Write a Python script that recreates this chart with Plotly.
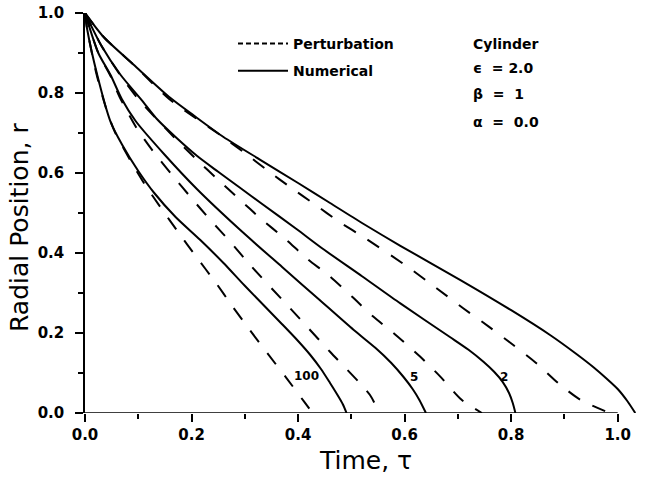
import plotly.graph_objects as go

# ---- data ----
biot_labels = ["100", "5", "2", "Bi<sub>r</sub> =1"]

num_100_t = [0, 0.004, 0.023, 0.048, 0.07, 0.1, 0.13, 0.17, 0.216, 0.26, 0.30, 0.37, 0.40, 0.423, 0.443, 0.46, 0.474, 0.484, 0.491]
num_100_r = [1, 0.96, 0.845, 0.728, 0.67, 0.605, 0.55, 0.49, 0.433, 0.375, 0.318, 0.222, 0.18, 0.145, 0.11, 0.075, 0.045, 0.022, 0.0]

num_5_t = [0, 0.025, 0.048, 0.069, 0.095, 0.15, 0.21, 0.291, 0.37, 0.44, 0.504, 0.545, 0.575, 0.598, 0.615, 0.628, 0.64]
num_5_r = [1, 0.9, 0.845, 0.785, 0.73, 0.645, 0.56, 0.458, 0.365, 0.283, 0.208, 0.163, 0.125, 0.09, 0.06, 0.032, 0.0]

num_2_t = [0, 0.03, 0.067, 0.106, 0.135, 0.17, 0.21, 0.25, 0.291, 0.33, 0.397, 0.447, 0.52, 0.592, 0.685, 0.72, 0.748, 0.768, 0.784, 0.796, 0.803, 0.808]
num_2_r = [1, 0.92, 0.845, 0.783, 0.735, 0.69, 0.643, 0.603, 0.563, 0.525, 0.46, 0.41, 0.342, 0.274, 0.19, 0.158, 0.128, 0.103, 0.078, 0.05, 0.025, 0.0]

num_1_t = [0, 0.035, 0.092, 0.16, 0.205, 0.26, 0.329, 0.4, 0.46, 0.52, 0.592, 0.704, 0.8, 0.873, 0.92, 0.954, 0.98, 1.0, 1.018, 1.033]
num_1_r = [1, 0.94, 0.87, 0.788, 0.743, 0.69, 0.633, 0.575, 0.525, 0.475, 0.418, 0.333, 0.257, 0.195, 0.15, 0.115, 0.085, 0.06, 0.03, 0.0]

per_100_t = [0, 0.004, 0.022, 0.04, 0.056, 0.085, 0.113, 0.144, 0.175, 0.208, 0.246, 0.275, 0.308, 0.342, 0.379, 0.411, 0.427]
per_100_r = [1, 0.96, 0.845, 0.76, 0.703, 0.632, 0.57, 0.51, 0.452, 0.392, 0.325, 0.27, 0.21, 0.15, 0.086, 0.029, 0.0]

per_5_t = [0, 0.025, 0.047, 0.065, 0.097, 0.128, 0.163, 0.2, 0.235, 0.272, 0.31, 0.385, 0.46, 0.535, 0.552]
per_5_r = [1, 0.9, 0.845, 0.79, 0.712, 0.654, 0.596, 0.537, 0.483, 0.429, 0.37, 0.262, 0.153, 0.045, 0.0]

per_2_t = [0, 0.03, 0.066, 0.1, 0.169, 0.21, 0.25, 0.291, 0.329, 0.376, 0.416, 0.46, 0.501, 0.541, 0.579, 0.629, 0.667, 0.707, 0.745]
per_2_r = [1, 0.92, 0.845, 0.785, 0.687, 0.633, 0.583, 0.533, 0.487, 0.435, 0.387, 0.341, 0.291, 0.241, 0.2, 0.141, 0.091, 0.033, 0.0]

per_1_t = [0, 0.035, 0.092, 0.158, 0.257, 0.3, 0.341, 0.388, 0.432, 0.476, 0.526, 0.605, 0.66, 0.71, 0.758, 0.804, 0.848, 0.889, 0.93, 0.985]
per_1_r = [1, 0.94, 0.87, 0.785, 0.692, 0.65, 0.608, 0.562, 0.521, 0.479, 0.437, 0.366, 0.312, 0.262, 0.216, 0.17, 0.124, 0.074, 0.033, 0.0]

label_t = [0.415, 0.617, 0.786, 1.05]
label_r = [0.093, 0.091, 0.091, 0.091]

x_ticks = [0.0, 0.2, 0.4, 0.6, 0.8, 1.0]
y_ticks = [0.0, 0.2, 0.4, 0.6, 0.8, 1.0]

legend_names = ["Perturbation", "Numerical"]
info_lines = ["Cylinder", "ϵ  = 2.0", "β  =  1", "α  =  0.0"]

FONT = "DejaVu Sans"
W, H = 654, 478
ML, MR, MT, MB = 85, 15, 13, 65
PW, PH = W - ML - MR, H - MT - MB


def px_x(p):
    return (p - ML) / PW


def px_y(p):
    return (H - MB - p) / PH


fig = go.Figure()

per_sets = [(per_100_t, per_100_r), (per_5_t, per_5_r), (per_2_t, per_2_r), (per_1_t, per_1_r)]
num_sets = [(num_100_t, num_100_r), (num_5_t, num_5_r), (num_2_t, num_2_r), (num_1_t, num_1_r)]

for t, r in per_sets:
    fig.add_trace(go.Scatter(
        x=t, y=r, mode="lines", showlegend=False, hoverinfo="x+y",
        line=dict(color="black", width=2, dash="14px,14px", shape="spline", smoothing=0.7),
    ))
for t, r in num_sets:
    fig.add_trace(go.Scatter(
        x=t, y=r, mode="lines", showlegend=False, hoverinfo="x+y",
        line=dict(color="black", width=2, shape="spline", smoothing=0.7),
    ))

# legend keys (no data, legend only)
fig.add_trace(go.Scatter(x=[None], y=[None], mode="lines", name=legend_names[0],
                         legendgroup="a", line=dict(color="black", width=2, dash="5px,3px")))
fig.add_trace(go.Scatter(x=[None], y=[None], mode="lines", name=legend_names[1],
                         legendgroup="b", line=dict(color="black", width=2)))

annotations = []
for lab, t, r in zip(biot_labels, label_t, label_r):
    annotations.append(dict(
        x=t, y=r, xref="x", yref="y", text=lab, showarrow=False,
        xanchor="left" if lab.startswith("Bi") else "center", yanchor="middle",
        font=dict(family=FONT, size=12, color="black", weight="bold"),
    ))

info_y_px = [44, 68, 94, 122]
for txt, py in zip(info_lines, info_y_px):
    annotations.append(dict(
        x=px_x(471), y=px_y(py), xref="paper", yref="paper",
        text=txt, showarrow=False, xanchor="left", yanchor="middle",
        font=dict(family=FONT, size=14, color="black", weight="bold"),
    ))

annotations.append(dict(
    x=px_x(365), y=px_y(460), xref="paper", yref="paper",
    text="Time, τ", showarrow=False, xanchor="center", yanchor="middle",
    font=dict(family=FONT, size=25, color="black"),
))
annotations.append(dict(
    x=px_x(19), y=px_y(228), xref="paper", yref="paper",
    text="Radial Position, r", showarrow=False, xanchor="center", yanchor="middle",
    textangle=-90, font=dict(family=FONT, size=25, color="black"),
))

fig.update_layout(
    width=W, height=H,
    margin=dict(l=ML, r=MR, t=MT, b=MB, autoexpand=False),
    paper_bgcolor="white", plot_bgcolor="white",
    showlegend=True,
    legend=dict(
        x=px_x(233), y=px_y(28), xanchor="left", yanchor="top",
        bgcolor="rgba(0,0,0,0)", borderwidth=0,
        font=dict(family=FONT, size=14, color="black", weight="bold"),
        traceorder="grouped", tracegroupgap=6, itemwidth=50,
    ),
    annotations=annotations,
    shapes=[dict(type="line", xref="x", yref="y", x0=0, x1=1.0, y0=0, y1=0,
                 line=dict(color="black", width=1.5), layer="above")],
    font=dict(family=FONT, color="black"),
)

fig.update_xaxes(
    range=[0, 1.04], showgrid=False, zeroline=False, showline=False, automargin=False,
    tickmode="array", tickvals=x_ticks, tickformat=".1f",
    ticks="outside", ticklen=8, tickwidth=1.5, tickcolor="black",
    minor=dict(dtick=0.1, ticks="outside", ticklen=5, tickwidth=1.5, tickcolor="black", showgrid=False),
    tickfont=dict(family=FONT, size=15, color="black", weight="bold"),
)
fig.update_yaxes(
    range=[0, 1.0], showgrid=False, zeroline=False, showline=True, automargin=False,
    linecolor="black", linewidth=1.5,
    tickmode="array", tickvals=y_ticks, tickformat=".1f",
    ticks="outside", ticklen=8, tickwidth=1.5, tickcolor="black",
    ticklabelstandoff=8,
    minor=dict(dtick=0.1, ticks="outside", ticklen=5, tickwidth=1.5, tickcolor="black", showgrid=False),
    tickfont=dict(family=FONT, size=15, color="black", weight="bold"),
)

fig.write_html("out.html", config={"displayModeBar": False},
               post_script="document.body.style.margin='0px';")
